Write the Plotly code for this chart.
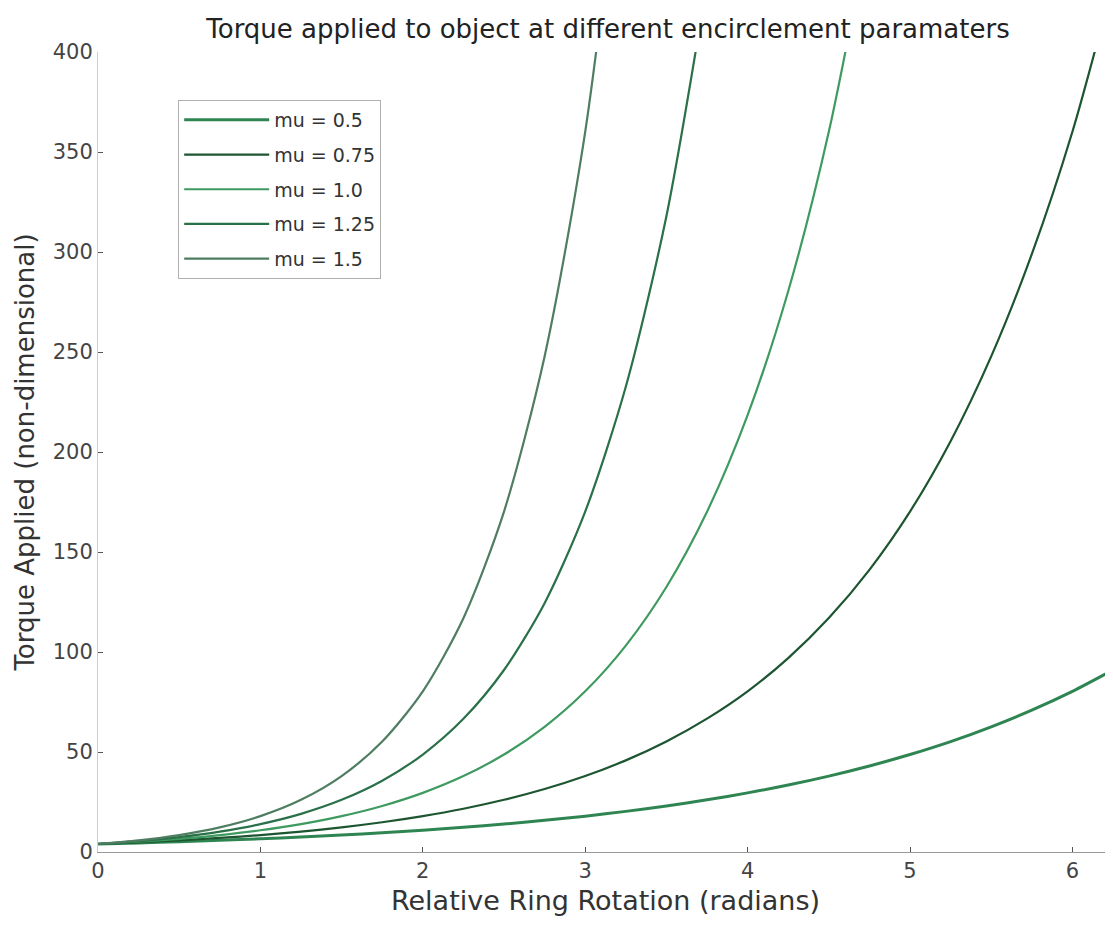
import plotly.graph_objects as go

# Values (relative ring rotation in radians vs torque)
x_pts = [0, 0.25, 0.5, 0.75, 1.0, 1.25, 1.5, 1.75, 2.0, 2.25, 2.5, 2.75, 3.0,
         3.25, 3.5, 3.75, 4.0, 4.25, 4.5, 4.75, 5.0, 5.25, 5.5, 5.75, 6.0, 6.25]

mu_05 = [4.0, 4.53, 5.14, 5.82, 6.59, 7.47, 8.47, 9.59, 10.87, 12.32, 13.96, 15.82, 17.93,
         20.31, 23.02, 26.08, 29.56, 33.49, 37.95, 43.0, 48.73, 55.2, 62.6, 70.9, 80.3, 91.0]
mu_075 = [4.0, 4.82, 5.82, 7.02, 8.47, 10.21, 12.32, 14.86, 17.93, 21.63, 26.10, 31.48, 37.97,
          45.81, 55.26, 66.67, 80.34, 96.97, 117.0, 141.1, 170.2, 205.4, 247.8, 298.9, 360.1, 434.6]
mu_10 = [4.0, 5.14, 6.59, 8.47, 10.87, 13.96, 17.93, 23.02, 29.56, 37.95, 48.73, 62.57, 80.34,
         103.2, 132.5, 170.1, 218.4, 280.4, 360.1, 462.3]
mu_125 = [4.0, 5.47, 7.47, 10.21, 13.96, 19.08, 26.08, 35.64, 48.73, 66.6, 91.0, 124.4, 170.2,
          232.6, 317.9, 434.6]
mu_15 = [4.0, 5.82, 8.47, 12.32, 17.93, 26.08, 37.95, 55.26, 80.34, 116.9, 170.2, 247.8, 360.1, 524.0]

series_names = ["mu = 0.5", "mu = 0.75", "mu = 1.0", "mu = 1.25", "mu = 1.5"]
series_vals = [mu_05, mu_075, mu_10, mu_125, mu_15]
colors = ["#2f8552", "#1c5530", "#3f9a60", "#2a7048", "#4f7d62"]
widths = [3, 2.2, 2.2, 2.2, 2.2]

x_ticks = [0, 1, 2, 3, 4, 5, 6]
y_ticks = [0, 50, 100, 150, 200, 250, 300, 350, 400]

fig = go.Figure()
for i, (name, vals) in enumerate(zip(series_names, series_vals)):
    fig.add_trace(go.Scatter(
        x=x_pts[:len(vals)], y=vals, mode="lines", name=name,
        legendgroup=f"g{i}",
        line=dict(color=colors[i], width=widths[i], shape="spline", smoothing=0.8),
    ))

font_fam = "DejaVu Sans, Liberation Sans, Arial, sans-serif"
fig.update_layout(
    width=1105, height=922,
    margin=dict(l=90, r=0, t=44, b=78),
    paper_bgcolor="white", plot_bgcolor="white",
    font=dict(family=font_fam, color="#333333"),
    title=dict(text="Torque applied to object at different encirclement paramaters",
               x=0.543, xanchor="center", yref="container", y=0.977, yanchor="middle",
               font=dict(size=26, family=font_fam, color="#222222")),
    showlegend=True,
    legend=dict(x=0.079, y=0.94, xanchor="left", yanchor="top",
                bgcolor="white", bordercolor="#b0b0b0", borderwidth=1,
                font=dict(size=19, color="#333333"), tracegroupgap=7,
                traceorder="grouped", itemwidth=85),
)
fig.update_xaxes(
    range=[0, 6.25], tickvals=x_ticks, ticks="inside", ticklen=5, tickcolor="#555555",
    showline=True, linecolor="#999999", linewidth=1, showgrid=False, zeroline=False,
    tickfont=dict(size=21, color="#444444"),
    title=dict(text="Relative Ring Rotation (radians)", font=dict(size=27, color="#333333"), standoff=8),
)
fig.update_yaxes(
    range=[0, 400], tickvals=y_ticks, ticks="inside", ticklen=5, tickcolor="#555555",
    showline=True, linecolor="#cccccc", linewidth=1, showgrid=False, zeroline=False,
    tickfont=dict(size=21, color="#444444"),
    title=dict(text="Torque Applied (non-dimensional)", font=dict(size=26, color="#333333"), standoff=10),
)

fig.write_html("out.html")
